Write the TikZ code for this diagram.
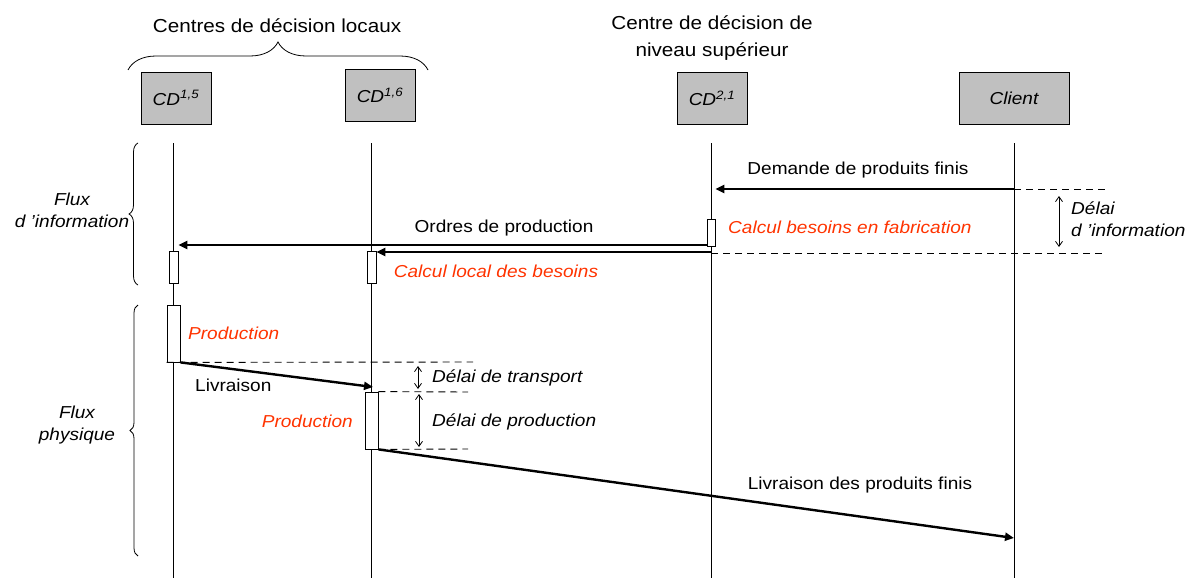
\documentclass[tikz,border=0pt]{standalone}
\usepackage{fontspec}
\setmainfont{Liberation Sans}[FakeStretch=1.1]
\usetikzlibrary{arrows.meta,decorations.pathreplacing}
\definecolor{boxgray}{RGB}{192,192,192}
\definecolor{calcred}{RGB}{255,51,0}
\begin{document}
\begin{tikzpicture}[x=1pt,y=-1pt,
  lbl/.style={font=\fontsize{17.3}{22}\selectfont, inner sep=0pt},
  redlbl/.style={inner sep=0pt, text=calcred, font=\fontsize{17.3}{22}\selectfont\itshape},
  ital/.style={inner sep=0pt, font=\fontsize{17.3}{22}\selectfont\itshape},
  titlelbl/.style={inner sep=0pt, font=\fontsize{18.8}{27}\selectfont},
  cdbox/.style={draw, fill=boxgray, minimum height=52pt, inner sep=0pt, font=\fontsize{17.3}{20}\selectfont\itshape, line width=0.8pt},
  life/.style={line width=1pt},
  actbox/.style={draw, fill=white, inner sep=0pt, line width=0.8pt},
  msg/.style={line width=2.4pt, -{Triangle[length=9pt,width=8pt]}},
  dashline/.style={line width=0.9pt, dash pattern=on 7pt off 5pt},
  delay/.style={line width=0.8pt, {Straight Barb[length=5pt,width=7pt]}-{Straight Barb[length=5pt,width=7pt]}},
  bracestyle/.style={decorate, line width=0.8pt},
]
\useasboundingbox (0,0) rectangle (1188,578);

% titles
\node[titlelbl] (tLoc) at (277,26) {Centres de décision locaux};
\node[titlelbl, align=center] (tSup) at (712,38) {Centre de décision de\\niveau supérieur};

% braces
\coordinate (bTl) at (128,70); \coordinate (bTr) at (428,70);
\draw[bracestyle, decoration={brace, amplitude=28pt}] (bTl) -- (bTr);
\coordinate (bIb) at (138,285); \coordinate (bIt) at (138,143);
\draw[bracestyle, decoration={brace, amplitude=9pt}] (bIb) -- (bIt);
\coordinate (bPb) at (138,556); \coordinate (bPt) at (138,305);
\draw[bracestyle, decoration={brace, amplitude=8pt}] (bPb) -- (bPt);

\node[ital, align=center] (fluxI) at (72,210) {Flux\\d ’information};
\node[ital, align=center] (fluxP) at (77,425) {Flux\\physique};

% header boxes
\node[cdbox, minimum width=70pt] (cd15) at (176,98) {CD\textsuperscript{1,5}};
\node[cdbox, minimum width=70pt] (cd16) at (380,95) {CD\textsuperscript{1,6}};
\node[cdbox, minimum width=70pt] (cd21) at (712,98) {CD\textsuperscript{2,1}};
\node[cdbox, minimum width=110pt] (cli) at (1014,98) {Client};

% lifelines
\coordinate (l1t) at (173,143); \coordinate (l1b) at (173,578);
\coordinate (l2t) at (371,143); \coordinate (l2b) at (371,578);
\coordinate (l3t) at (711,143); \coordinate (l3b) at (711,578);
\coordinate (l4t) at (1014,143); \coordinate (l4b) at (1014,578);
\draw[life] (l1t) -- (l1b);
\draw[life] (l2t) -- (l2b);
\draw[life] (l3t) -- (l3b);
\draw[life] (l4t) -- (l4b);

% activation boxes
\node[actbox, minimum width=9pt, minimum height=32pt] (a1) at (173.5,267) {};
\node[actbox, minimum width=9pt, minimum height=32pt] (a2) at (371.5,267) {};
\node[actbox, minimum width=8pt, minimum height=27pt] (a3) at (711,232.5) {};
\node[actbox, minimum width=13pt, minimum height=57pt] (p1) at (173.5,333.5) {};
\node[actbox, minimum width=13pt, minimum height=57pt] (p2) at (371.5,420.5) {};

% dashed reference lines
\coordinate (dA1) at (1014,189); \coordinate (dA2) at (1108,189);
\coordinate (dB1) at (711,253); \coordinate (dB2) at (1103,253);
\coordinate (dC2) at (473,362);
\coordinate (dD2) at (468,392);
\coordinate (dE2) at (468,449);
\draw[dashline] (dA1) -- (dA2);
\draw[dashline] (dB1) -- (dB2);
\draw[dashline] (p1.south west) -- (dC2);
\draw[dashline] (p2.north east) -- (dD2);
\draw[dashline] (p2.south east) -- (dE2);

% messages
\draw[msg] (dA1) -- (a3.east |- dA1);
\coordinate (o1s) at (707,245);
\draw[msg] (o1s) -- (a1.east |- o1s);
\coordinate (o2s) at (711,252);
\draw[msg] (o2s) -- (a2.east |- o2s);
\coordinate (liv1e) at (373,387);
\draw[msg] (p1.south east) -- (liv1e);
\coordinate (liv2e) at (1014,538);
\draw[msg] (p2.south east) -- (liv2e);

% delay arrows
\coordinate (di1) at (1059,196); \coordinate (di2) at (1059,247);
\draw[delay] (di1) -- (di2);
\coordinate (dt1) at (418,366); \coordinate (dt2) at (418,389);
\draw[delay] (dt1) -- (dt2);
\coordinate (dp1) at (419,394); \coordinate (dp2) at (419,447);
\draw[delay] (dp1) -- (dp2);

% labels
\node[lbl] (demL) at (858,170) {Demande de produits finis};
\node[lbl] (ordL) at (504,228) {Ordres de production};
\node[redlbl, anchor=west] (calcF) at (728,227) {Calcul besoins en fabrication};
\node[redlbl] (calcL) at (496,271) {Calcul local des besoins};
\node[ital, anchor=west, align=left] (delInfo) at (1071,219) {Délai\\d ’information};
\node[redlbl, anchor=west] (prod1) at (188,333) {Production};
\node[lbl, anchor=west] (livL) at (195,385) {Livraison};
\node[ital, anchor=west] (delT) at (432,378) {Délai de transport};
\node[redlbl, anchor=east] (prod2) at (353,421) {Production};
\node[ital, anchor=west] (delP) at (432,422) {Délai de production};
\node[lbl] (livF) at (860,485) {Livraison des produits finis};
\end{tikzpicture}
\end{document}
